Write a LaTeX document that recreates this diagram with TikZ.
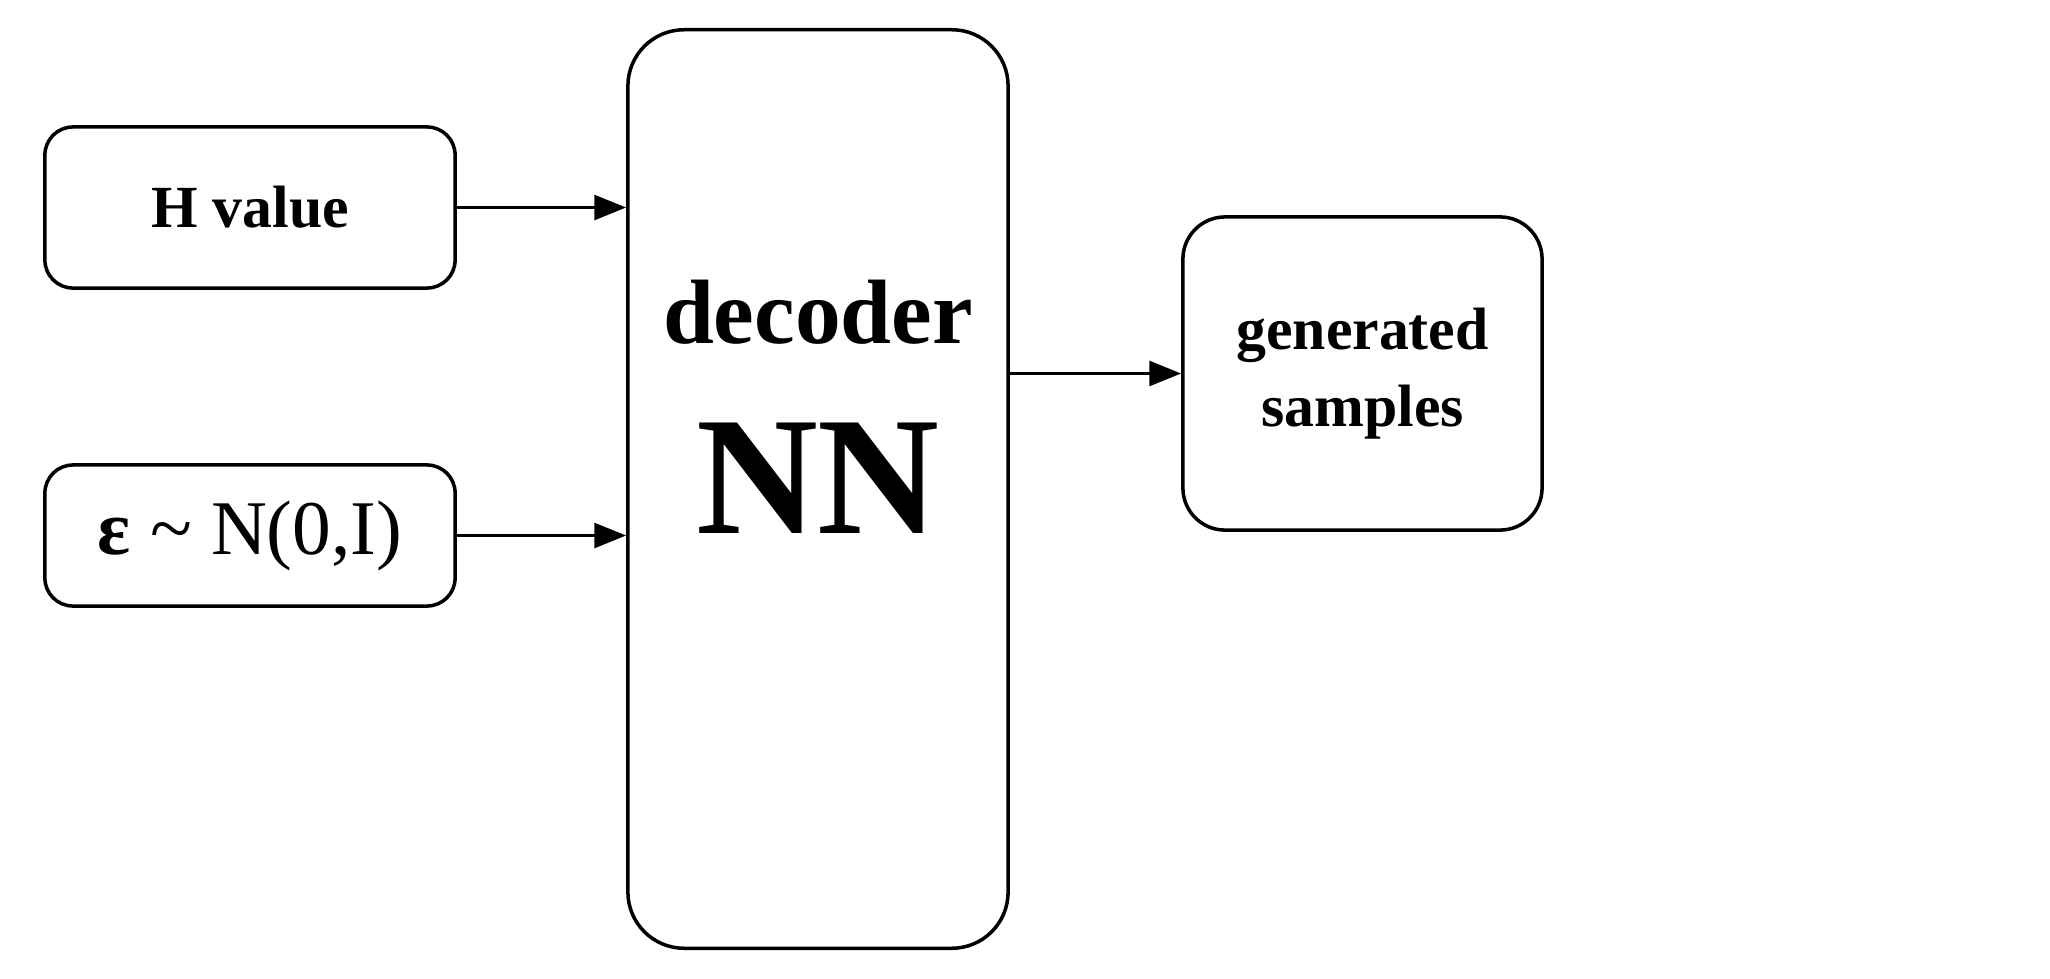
\documentclass[tikz,border=0pt]{standalone}
\usepackage{fontspec}
\setmainfont{Liberation Serif}
\usetikzlibrary{arrows.meta}
\begin{document}
\begin{tikzpicture}[x=0.01cm,y=-0.01cm,
  box/.style={draw,line width=1pt,rounded corners=8pt,inner sep=0pt},
  arr/.style={line width=1pt,-{Triangle[length=9pt,width=7pt]}}]
\useasboundingbox (0,0) rectangle (2050,978);
\node[box,minimum width=4.1cm,minimum height=1.61cm] (h) at (250,207.5) {\fontsize{17}{20}\selectfont\bfseries H value};
\node[box,minimum width=4.1cm,minimum height=1.41cm] (e) at (250,535.5) {\fontsize{22}{26}\selectfont\textbf{ε} \textasciitilde{} N(0,I)};
\node[box,rounded corners=16pt,minimum width=3.8cm,minimum height=9.18cm] (d) at (818,489) {};
\node (dt) at (818,312) {\fontsize{26}{30}\selectfont\bfseries decoder};
\node (nn) at (818,478) {\fontsize{48}{54}\selectfont\bfseries NN};
\node[box,rounded corners=12pt,minimum width=3.59cm,minimum height=3.13cm,align=center,font=\fontsize{17}{22}\selectfont\bfseries] (g) at (1362.5,373.5) {generated\\samples};
\draw[arr] (h.east) -- (h.east -| d.west);
\draw[arr] (e.east) -- (e.east -| d.west);
\draw[arr] (d.east |- g.west) -- (g.west);
\end{tikzpicture}
\end{document}
